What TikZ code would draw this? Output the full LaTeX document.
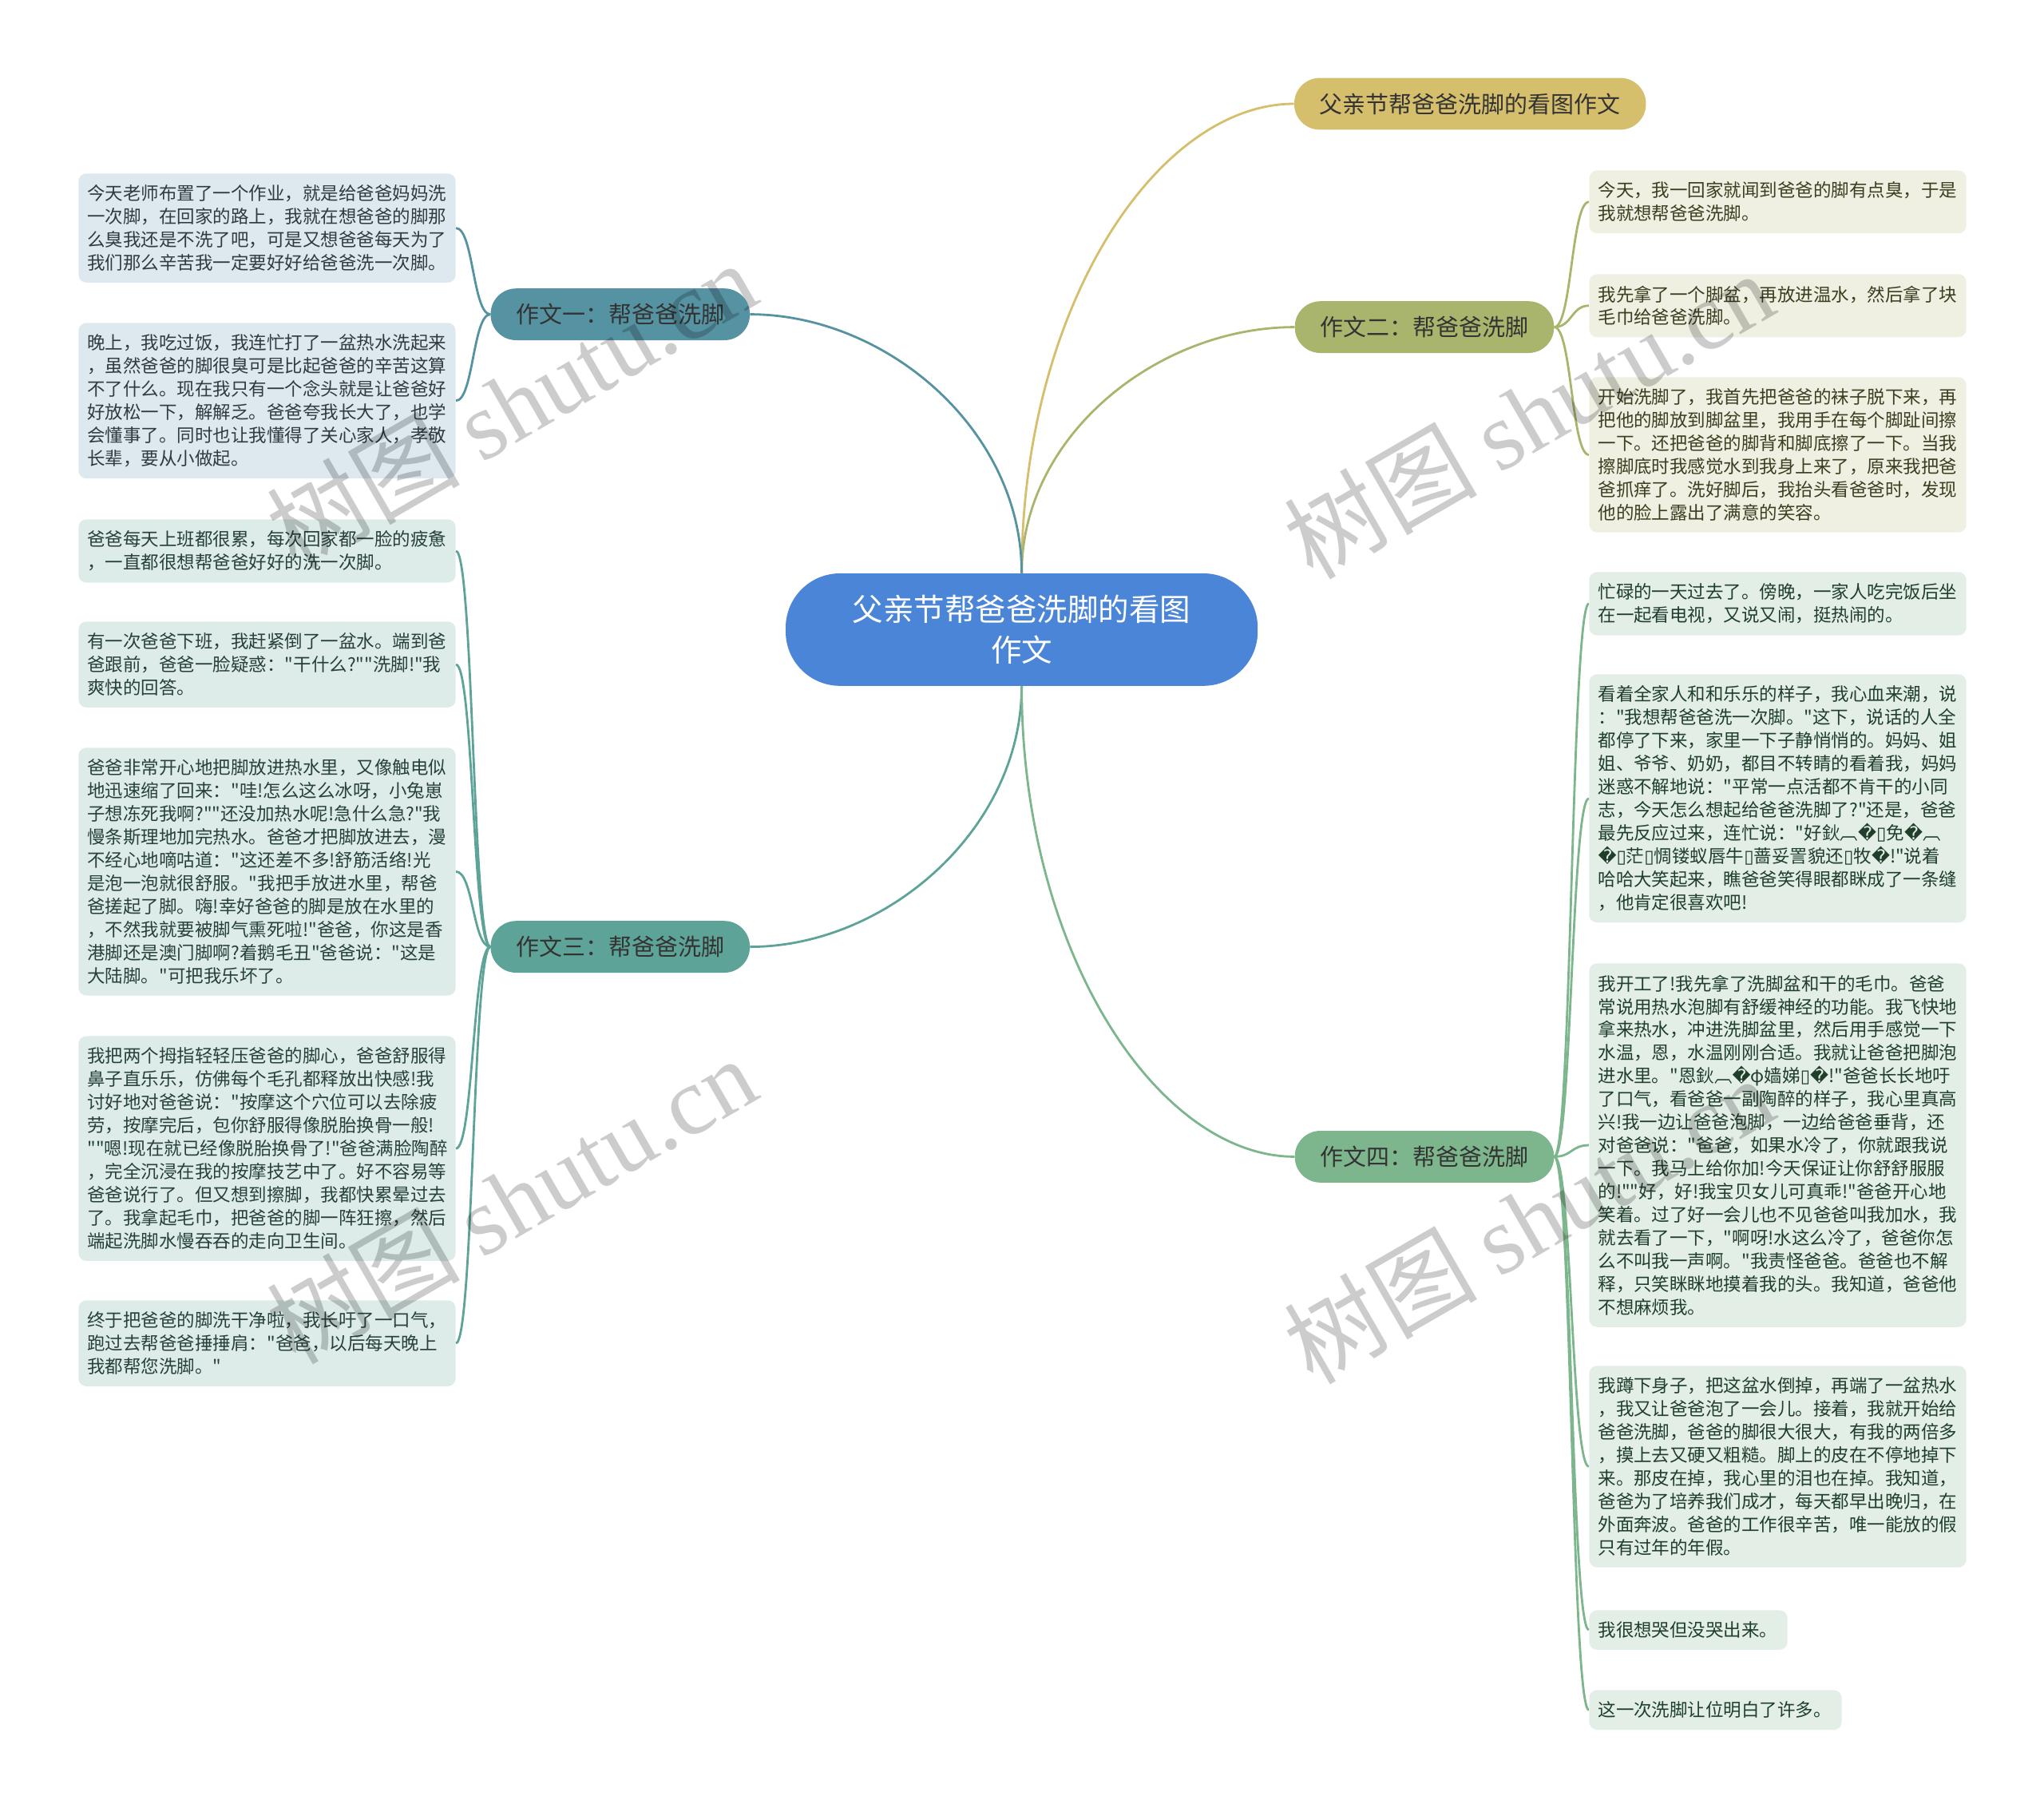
\documentclass[tikz,border=0pt]{standalone}
\usepackage{fontspec}
\setmainfont{Noto Sans CJK SC}[Ligatures=TeXOff]
\newfontfamily\wmfont{Liberation Serif}
\newfontfamily\symfont{DejaVu Sans}
\usepackage{xcolor}
\usepackage{tikz}
\usetikzlibrary{backgrounds}
\definecolor{cText}{HTML}{333333}
\definecolor{cRoot}{HTML}{4A85D8}
\definecolor{cTitle}{HTML}{D5BE6C}
\definecolor{cOne}{HTML}{5592A2}
\definecolor{cTwo}{HTML}{A9B56C}
\definecolor{cThree}{HTML}{5EA397}
\definecolor{cFour}{HTML}{7DB68C}
\definecolor{cOneL}{HTML}{DDE9EE}
\definecolor{cTwoL}{HTML}{EFEFE2}
\definecolor{cThreeL}{HTML}{DDECE9}
\definecolor{cFourL}{HTML}{E3EEE7}
\definecolor{cOneT}{HTML}{2F3B40}
\definecolor{cTwoT}{HTML}{3D3D20}
\definecolor{cThreeT}{HTML}{27403B}
\definecolor{cFourT}{HTML}{1F3F2B}
\tikzset{
  rootblk/.style={fill=cRoot, text=white, rounded corners=1.7cm, minimum width=14.78cm,
                  minimum height=3.52cm, align=center, font=\fontsize{27.4pt}{36pt}\selectfont},
  topic/.style={rounded corners=0.8cm, minimum height=1.62cm, inner xsep=0.8cm, text=cText,
                font=\fontsize{20.6pt}{24pt}\selectfont},
  leaf/.style={rounded corners=0.25cm, anchor=north west, align=left, text width=11.25cm,
               inner xsep=0.28cm, inner ysep=0.36cm, font=\fontsize{16pt}{20.6pt}\selectfont},
  leafone/.style={leaf, fill=cOneL, text=cOneT},
  leaftwo/.style={leaf, fill=cTwoL, text=cTwoT},
  leafthree/.style={leaf, fill=cThreeL, text=cThreeT},
  leaffour/.style={leaf, fill=cFourL, text=cFourT},
  link/.style={line width=2pt},
  wmark/.style={rotate=30, text=black, text opacity=0.2, font=\fontsize{86pt}{90pt}\selectfont}
}
\newcommand{\badch}{{\symfont\char"FFFD}}
\newcommand{\boxch}{{\symfont\char"25AF}}

\begin{document}
\begin{tikzpicture}
\useasboundingbox (0,0) rectangle (64,-56.575);
\node[rootblk] (root) at (31.99,-19.71) {父亲节帮爸爸洗脚的看图\\作文};
\node[topic, fill=cTitle] (title) at (46.03,-3.25) {父亲节帮爸爸洗脚的看图作文};
\node[topic, fill=cTwo] (two) at (44.6,-10.24) {作文二：帮爸爸洗脚};
\node[topic, fill=cFour] (four) at (44.6,-36.21) {作文四：帮爸爸洗脚};
\node[topic, fill=cOne] (one) at (19.42,-9.84) {作文一：帮爸爸洗脚};
\node[topic, fill=cThree] (three) at (19.42,-29.64) {作文三：帮爸爸洗脚};
% essay one
\node[leafone] (l1a) at (2.45,-5.425) {今天老师布置了一个作业，就是给爸爸妈妈洗\\
一次脚，在回家的路上，我就在想爸爸的脚那\\
么臭我还是不洗了吧，可是又想爸爸每天为了\\
我们那么辛苦我一定要好好给爸爸洗一次脚。};
\node[leafone] (l1b) at (2.45,-10.1) {晚上，我吃过饭，我连忙打了一盆热水洗起来\\
，虽然爸爸的脚很臭可是比起爸爸的辛苦这算\\
不了什么。现在我只有一个念头就是让爸爸好\\
好放松一下，解解乏。爸爸夸我长大了，也学\\
会懂事了。同时也让我懂得了关心家人，孝敬\\
长辈，要从小做起。};
% essay three
\node[leafthree] (l3a) at (2.45,-16.25) {爸爸每天上班都很累，每次回家都一脸的疲惫\\
，一直都很想帮爸爸好好的洗一次脚。};
\node[leafthree] (l3b) at (2.45,-19.45) {有一次爸爸下班，我赶紧倒了一盆水。端到爸\\
爸跟前，爸爸一脸疑惑："干什么?""洗脚!"我\\
爽快的回答。};
\node[leafthree] (l3c) at (2.45,-23.4) {爸爸非常开心地把脚放进热水里，又像触电似\\
地迅速缩了回来："哇!怎么这么冰呀，小兔崽\\
子想冻死我啊?""还没加热水呢!急什么急?"我\\
慢条斯理地加完热水。爸爸才把脚放进去，漫\\
不经心地嘀咕道："这还差不多!舒筋活络!光\\
是泡一泡就很舒服。"我把手放进水里，帮爸\\
爸搓起了脚。嗨!幸好爸爸的脚是放在水里的\\
，不然我就要被脚气熏死啦!"爸爸，你这是香\\
港脚还是澳门脚啊?着鹅毛丑"爸爸说："这是\\
大陆脚。"可把我乐坏了。};
\node[leafthree] (l3d) at (2.45,-32.43) {我把两个拇指轻轻压爸爸的脚心，爸爸舒服得\\
鼻子直乐乐，仿佛每个毛孔都释放出快感!我\\
讨好地对爸爸说："按摩这个穴位可以去除疲\\
劳，按摩完后，包你舒服得像脱胎换骨一般!\\
""嗯!现在就已经像脱胎换骨了!"爸爸满脸陶醉\\
，完全沉浸在我的按摩技艺中了。好不容易等\\
爸爸说行了。但又想到擦脚，我都快累晕过去\\
了。我拿起毛巾，把爸爸的脚一阵狂擦，然后\\
端起洗脚水慢吞吞的走向卫生间。};
\node[leafthree] (l3e) at (2.45,-40.7) {终于把爸爸的脚洗干净啦，我长吁了一口气，\\
跑过去帮爸爸捶捶肩："爸爸，以后每天晚上\\
我都帮您洗脚。"};
% essay two
\node[leaftwo] (r2a) at (49.75,-5.33) {今天，我一回家就闻到爸爸的脚有点臭，于是\\
我就想帮爸爸洗脚。};
\node[leaftwo] (r2b) at (49.75,-8.575) {我先拿了一个脚盆，再放进温水，然后拿了块\\
毛巾给爸爸洗脚。};
\node[leaftwo] (r2c) at (49.75,-11.8) {开始洗脚了，我首先把爸爸的袜子脱下来，再\\
把他的脚放到脚盆里，我用手在每个脚趾间擦\\
一下。还把爸爸的脚背和脚底擦了一下。当我\\
擦脚底时我感觉水到我身上来了，原来我把爸\\
爸抓痒了。洗好脚后，我抬头看爸爸时，发现\\
他的脸上露出了满意的笑容。};
% essay four
\node[leaffour] (r4a) at (49.75,-17.9) {忙碌的一天过去了。傍晚，一家人吃完饭后坐\\
在一起看电视，又说又闹，挺热闹的。};
\node[leaffour] (r4b) at (49.75,-21.1) {看着全家人和和乐乐的样子，我心血来潮，说\\
："我想帮爸爸洗一次脚。"这下，说话的人全\\
都停了下来，家里一下子静悄悄的。妈妈、姐\\
姐、爷爷、奶奶，都目不转睛的看着我，妈妈\\
迷惑不解地说："平常一点活都不肯干的小同\\
志，今天怎么想起给爸爸洗脚了?"还是，爸爸\\
最先反应过来，连忙说："好鈥︹\badch\boxch 免\badch︹\\
\badch\boxch 茫\boxch 惆镂蚁唇牛\boxch 蔷妥詈貌还\boxch 牧\badch!"说着\\
哈哈大笑起来，瞧爸爸笑得眼都眯成了一条缝\\
，他肯定很喜欢吧!};
\node[leaffour] (r4c) at (49.75,-30.15) {我开工了!我先拿了洗脚盆和干的毛巾。爸爸\\
常说用热水泡脚有舒缓神经的功能。我飞快地\\
拿来热水，冲进洗脚盆里，然后用手感觉一下\\
水温，恩，水温刚刚合适。我就让爸爸把脚泡\\
进水里。"恩鈥︹\badch φ嫱娣\boxch\badch!"爸爸长长地吁\\
了口气，看爸爸一副陶醉的样子，我心里真高\\
兴!我一边让爸爸泡脚，一边给爸爸垂背，还\\
对爸爸说："爸爸，如果水冷了，你就跟我说\\
一下。我马上给你加!今天保证让你舒舒服服\\
的!""好，好!我宝贝女儿可真乖!"爸爸开心地\\
笑着。过了好一会儿也不见爸爸叫我加水，我\\
就去看了一下，"啊呀!水这么冷了，爸爸你怎\\
么不叫我一声啊。"我责怪爸爸。爸爸也不解\\
释，只笑眯眯地摸着我的头。我知道，爸爸他\\
不想麻烦我。};
\node[leaffour] (r4d) at (49.75,-42.75) {我蹲下身子，把这盆水倒掉，再端了一盆热水\\
，我又让爸爸泡了一会儿。接着，我就开始给\\
爸爸洗脚，爸爸的脚很大很大，有我的两倍多\\
，摸上去又硬又粗糙。脚上的皮在不停地掉下\\
来。那皮在掉，我心里的泪也在掉。我知道，\\
爸爸为了培养我们成才，每天都早出晚归，在\\
外面奔波。爸爸的工作很辛苦，唯一能放的假\\
只有过年的年假。};
\node[leaffour, text width=5.65cm] (r4e) at (49.75,-50.4) {我很想哭但没哭出来。};
\node[leaffour, text width=7.35cm] (r4f) at (49.75,-52.9) {这一次洗脚让位明白了许多。};
% main branches
\begin{scope}[on background layer]
\draw[link, cTitle] (root.north) .. controls +(0,8.3) and +(-4.3,0) .. (title.west);
\draw[link, cTwo] (root.north) .. controls +(0,4.3) and +(-4.3,0) .. (two.west);
\draw[link, cOne] (root.north) .. controls +(0,4.5) and +(4.25,0) .. (one.east);
\draw[link, cThree] (root.south) .. controls +(0,-4.5) and +(4.25,0) .. (three.east);
\draw[link, cFour] (root.south) .. controls +(0,-8.3) and +(-4.3,0) .. (four.west);
% leaves
\draw[link, cOne] (one.west) .. controls +(-0.55,0) and +(0.55,0) .. (l1a.east);
\draw[link, cOne] (one.west) .. controls +(-0.55,0) and +(0.55,0) .. (l1b.east);
\draw[link, cThree] (three.west) .. controls +(-0.55,0) and +(0.55,0) .. (l3a.east);
\draw[link, cThree] (three.west) .. controls +(-0.55,0) and +(0.55,0) .. (l3b.east);
\draw[link, cThree] (three.west) .. controls +(-0.55,0) and +(0.55,0) .. (l3c.east);
\draw[link, cThree] (three.west) .. controls +(-0.55,0) and +(0.55,0) .. (l3d.east);
\draw[link, cThree] (three.west) .. controls +(-0.55,0) and +(0.55,0) .. (l3e.east);
\draw[link, cTwo] (two.east) .. controls +(0.55,0) and +(-0.55,0) .. (r2a.west);
\draw[link, cTwo] (two.east) .. controls +(0.55,0) and +(-0.55,0) .. (r2b.west);
\draw[link, cTwo] (two.east) .. controls +(0.55,0) and +(-0.55,0) .. (r2c.west);
\draw[link, cFour] (four.east) .. controls +(0.55,0) and +(-0.55,0) .. (r4a.west);
\draw[link, cFour] (four.east) .. controls +(0.55,0) and +(-0.55,0) .. (r4b.west);
\draw[link, cFour] (four.east) .. controls +(0.55,0) and +(-0.55,0) .. (r4c.west);
\draw[link, cFour] (four.east) .. controls +(0.55,0) and +(-0.55,0) .. (r4d.west);
\draw[link, cFour] (four.east) .. controls +(0.55,0) and +(-0.55,0) .. (r4e.west);
\draw[link, cFour] (four.east) .. controls +(0.55,0) and +(-0.55,0) .. (r4f.west);
\end{scope}
% watermark
\node[wmark] (wm1) at (16.0,-12.65) {树图 {\wmfont shutu.cn}};
\node[wmark] (wm2) at (16.0,-37.55) {树图 {\wmfont shutu.cn}};
\node[wmark] (wm3) at (47.85,-12.98) {树图 {\wmfont shutu.cn}};
\node[wmark] (wm4) at (47.85,-38.17) {树图 {\wmfont shutu.cn}};
\end{tikzpicture}
\end{document}
